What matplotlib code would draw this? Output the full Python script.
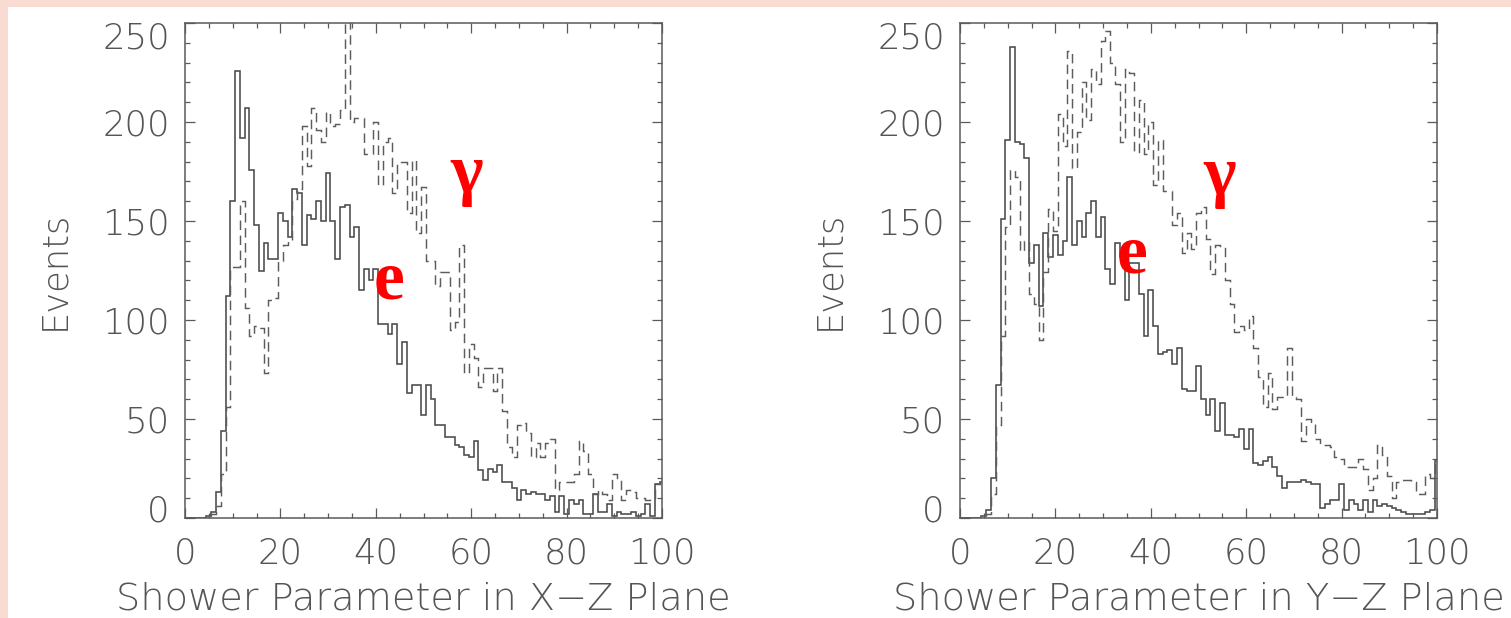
import numpy as np
import matplotlib
matplotlib.use("Agg")
import matplotlib.pyplot as plt
from matplotlib.ticker import MultipleLocator, FixedLocator
from matplotlib.patches import Rectangle
import matplotlib.transforms as mtransforms

# ---------------- data (bin centres 0..100, unit width) ----------------
bin_edges = np.arange(-0.5, 101.5, 1.0)

xz_electron = [0, 0, 0, 0, 0, 1, 3, 13, 44, 112,
               160, 226, 192, 207, 176, 148, 125, 139, 131, 131,
               154, 150, 142, 166, 164, 138, 153, 151, 160, 150,
               174, 150, 131, 157, 158, 142, 147, 115, 126, 120,
               126, 98, 98, 93, 98, 78, 89, 63, 67, 67,
               52, 67, 60, 47, 47, 41, 41, 37, 36, 32,
               31, 39, 24, 19, 25, 23, 27, 18, 18, 15,
               9, 14, 12, 13, 12, 12, 9, 11, 3, 11,
               2, 9, 7, 9, 2, 2, 12, 3, 3, 7,
               1, 3, 2, 2, 3, 1, 2, 7, 1, 17, 18]

xz_gamma = [0, 0, 0, 0, 0, 1, 2, 6, 22, 56,
            127, 127, 160, 106, 92, 97, 96, 73, 110, 111,
            130, 138, 140, 161, 166, 198, 178, 207, 196, 190,
            205, 198, 199, 206, 262, 200, 202, 202, 184, 184,
            200, 168, 190, 192, 164, 180, 180, 154, 181, 144,
            167, 130, 130, 117, 124, 124, 95, 99, 138, 73,
            88, 81, 66, 76, 76, 64, 76, 54, 36, 31,
            47, 48, 43, 31, 38, 31, 38, 40, 14, 18,
            18, 18, 22, 39, 34, 22, 12, 14, 12, 9,
            22, 19, 9, 14, 13, 10, 10, 9, 10, 17, 18]

yz_electron = [0, 0, 0, 0, 0, 1, 4, 20, 67, 151,
               191, 238, 190, 189, 182, 129, 138, 107, 144, 132,
               143, 133, 140, 172, 138, 150, 142, 154, 160, 142,
               152, 126, 118, 139, 132, 110, 129, 129, 113, 92,
               115, 97, 83, 84, 85, 78, 86, 65, 64, 64,
               77, 60, 52, 60, 44, 58, 42, 42, 41, 45,
               35, 45, 28, 27, 29, 31, 26, 21, 15, 18,
               18, 18, 19, 18, 17, 17, 5, 7, 9, 9,
               17, 4, 9, 7, 4, 9, 3, 9, 6, 7,
               6, 5, 4, 3, 2, 2, 2, 2, 3, 4, 29]

yz_gamma = [0, 0, 0, 0, 0, 0, 2, 12, 47, 92,
            147, 176, 172, 135, 140, 113, 108, 90, 124, 156,
            145, 204, 188, 236, 177, 195, 220, 201, 227, 219,
            241, 246, 230, 219, 190, 227, 225, 185, 211, 184,
            200, 168, 191, 165, 165, 148, 154, 134, 144, 136,
            154, 157, 141, 123, 138, 137, 120, 108, 94, 97,
            95, 102, 86, 71, 56, 73, 55, 61, 61, 86,
            61, 60, 39, 50, 48, 40, 37, 37, 36, 31,
            30, 26, 26, 26, 30, 25, 14, 20, 37, 32,
            21, 10, 18, 19, 19, 18, 12, 12, 22, 20, 29]

x_major_ticks = [0, 20, 40, 60, 80, 100]
y_major_ticks = [0, 50, 100, 150, 200, 250]
x_labels = ["Shower Parameter in X\u2212Z Plane", "Shower Parameter in Y\u2212Z Plane"]
y_label = "Events"

# ---------------- styling ----------------
PINK = "#F9DBD3"
AX_COLOR = "#5a5a5a"
TXT_COLOR = "#555555"
SOLID_COLOR = "#4a4a4a"
DASH_COLOR = "#5c5c5c"
FS_TICK = 25.5
FS_LABEL = 27.5
SERIF = ["Liberation Serif", "DejaVu Serif"]

fig = plt.figure(figsize=(15.11, 6.18), dpi=100)
fig.patch.set_facecolor(PINK)
fig.patches.append(Rectangle((8 / 1511, 0), 1.0, 611 / 618, transform=fig.transFigure,
                             facecolor="white", edgecolor="none", zorder=-10))

panels = [
    (185 / 1511, xz_electron, xz_gamma, x_labels[0], (42.7, 111), (59.0, 164.5)),
    (960 / 1511, yz_electron, yz_gamma, x_labels[1], (36.0, 124), (54.4, 163.5)),
]

for left, e_vals, g_vals, xlabel, e_pos, g_pos in panels:
    ax = fig.add_axes([left, 100 / 618, 477 / 1511, 495 / 618])
    ax.set_facecolor("none")
    ax.stairs(e_vals, bin_edges, baseline=None, color=SOLID_COLOR, lw=1.15)
    ax.stairs(g_vals, bin_edges, baseline=None, color=DASH_COLOR, lw=1.05,
              linestyle=(0, (6.5, 3.8)))
    ax.set_xlim(0, 100)
    ax.set_ylim(0, 250)
    ax.xaxis.set_major_locator(FixedLocator(x_major_ticks))
    ax.yaxis.set_major_locator(FixedLocator(y_major_ticks))
    ax.xaxis.set_minor_locator(MultipleLocator(5))
    ax.yaxis.set_minor_locator(MultipleLocator(10))
    for sp in ax.spines.values():
        sp.set_color(AX_COLOR)
        sp.set_linewidth(1.1)
    ax.tick_params(which="both", direction="in", top=True, right=True,
                   color=AX_COLOR, width=0.9)
    ax.tick_params(which="major", length=7.2)
    ax.tick_params(which="minor", length=3.6)
    ax.tick_params(axis="x", which="major", pad=13, labelsize=FS_TICK, labelcolor=TXT_COLOR)
    ax.tick_params(axis="y", which="major", pad=11, labelsize=FS_TICK, labelcolor=TXT_COLOR)
    ax.set_xlabel(xlabel, fontsize=FS_LABEL, color=TXT_COLOR, labelpad=8)
    ax.set_ylabel(y_label, fontsize=FS_TICK, color=TXT_COLOR, labelpad=22)
    for lab in ax.get_xticklabels() + ax.get_yticklabels():
        lab.set_fontweight("light")
    ax.xaxis.label.set_fontweight("light")
    ax.yaxis.label.set_fontweight("light")

    ax.text(e_pos[0], e_pos[1], "e", color="red", fontsize=50, fontweight="bold",
            family=SERIF, ha="center", va="baseline")
    ax.text(g_pos[0], g_pos[1], "\u03b3", color="red", fontsize=50, fontweight="bold",
            family=SERIF, ha="center", va="baseline")

    # nudge the end labels of the y axis inward, as in the original
    fig.canvas.draw()
    ylabels = ax.get_yticklabels()
    ylabels[0].set_transform(ylabels[0].get_transform() +
                             mtransforms.ScaledTranslation(0, 10 / 100, fig.dpi_scale_trans))
    ylabels[-1].set_transform(ylabels[-1].get_transform() +
                              mtransforms.ScaledTranslation(0, -12 / 100, fig.dpi_scale_trans))

fig.savefig("out.png", dpi=100, facecolor=fig.get_facecolor())
